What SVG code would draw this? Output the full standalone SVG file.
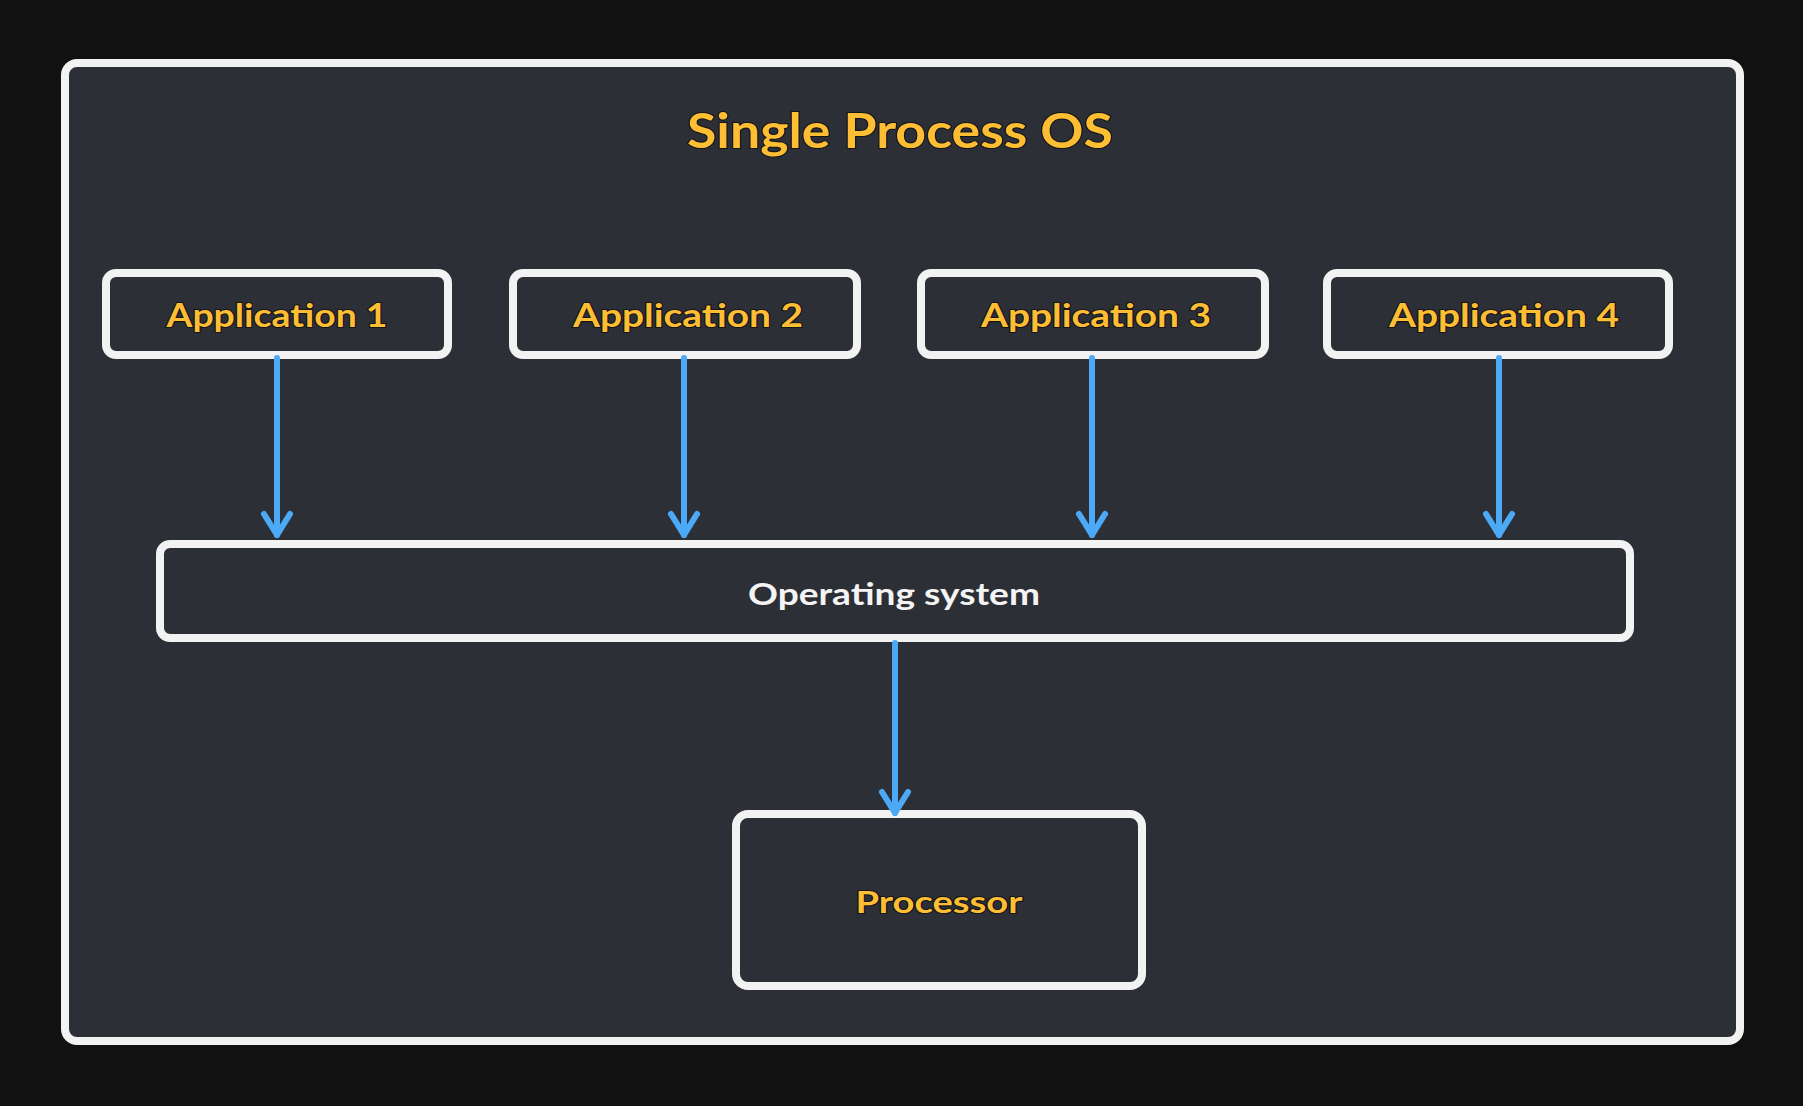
<svg xmlns="http://www.w3.org/2000/svg" width="1803" height="1106" viewBox="0 0 1803 1106">
  <style>
    .box { fill: #2d2f37; stroke: #f2f2f2; stroke-width: 8; stroke-linejoin: round; }
    .lbl { font-family: "Lato", "Liberation Sans", sans-serif; font-weight: 700; fill: #fdbe33; stroke: #15161a; stroke-width: 2.2; paint-order: stroke; text-anchor: middle; }
    .wlbl { font-family: "Lato", "Liberation Sans", sans-serif; font-weight: 700; fill: #f4f4f4; text-anchor: middle; }
    .conn { stroke: #4ca9f6; stroke-width: 6; stroke-linecap: round; fill: none; }
    .head { stroke: #4ca9f6; stroke-width: 6; stroke-linecap: round; stroke-linejoin: round; fill: none; }
  </style>
  <defs>
    <marker id="arrow" markerUnits="userSpaceOnUse" markerWidth="40" markerHeight="40" viewBox="-30 -20 40 40" refX="0" refY="0" orient="auto" overflow="visible">
      <path class="head" d="M -21 -13 L 0 0 L -21 13"/>
    </marker>
  </defs>
  <rect width="1803" height="1106" fill="#111112"/>

  <g id="frame">
    <rect class="box" x="65" y="63" width="1675" height="978" rx="12"/>
    <text class="lbl" x="900" y="148" font-size="48" textLength="426" lengthAdjust="spacingAndGlyphs">Single Process OS</text>
  </g>

  <g id="app1">
    <rect class="box" x="106" y="273" width="342" height="82" rx="10"/>
    <text class="lbl" x="277" y="327" font-size="33" textLength="221" lengthAdjust="spacingAndGlyphs">Application 1</text>
  </g>
  <g id="app2">
    <rect class="box" x="513" y="273" width="344" height="82" rx="10"/>
    <text class="lbl" x="688" y="327" font-size="33" textLength="230" lengthAdjust="spacingAndGlyphs">Application 2</text>
  </g>
  <g id="app3">
    <rect class="box" x="921" y="273" width="344" height="82" rx="10"/>
    <text class="lbl" x="1096" y="327" font-size="33" textLength="230" lengthAdjust="spacingAndGlyphs">Application 3</text>
  </g>
  <g id="app4">
    <rect class="box" x="1327" y="273" width="342" height="82" rx="10"/>
    <text class="lbl" x="1504" y="327" font-size="33" textLength="230" lengthAdjust="spacingAndGlyphs">Application 4</text>
  </g>

  <g id="os">
    <rect class="box" x="160" y="544" width="1470" height="94" rx="10"/>
    <text class="wlbl" x="894" y="605" font-size="30" textLength="292" lengthAdjust="spacingAndGlyphs">Operating system</text>
  </g>

  <g id="processor">
    <rect class="box" x="736" y="814" width="406" height="172" rx="12"/>
    <text class="lbl" x="939" y="913" font-size="30" textLength="167" lengthAdjust="spacingAndGlyphs">Processor</text>
  </g>

  <g id="connectors">
    <line class="conn" x1="277" y1="358" x2="277" y2="535" marker-end="url(#arrow)"/>
    <line class="conn" x1="684" y1="358" x2="684" y2="535" marker-end="url(#arrow)"/>
    <line class="conn" x1="1092" y1="358" x2="1092" y2="535" marker-end="url(#arrow)"/>
    <line class="conn" x1="1499" y1="358" x2="1499" y2="535" marker-end="url(#arrow)"/>
    <line class="conn" x1="895" y1="643" x2="895" y2="813" marker-end="url(#arrow)"/>
  </g>
</svg>
